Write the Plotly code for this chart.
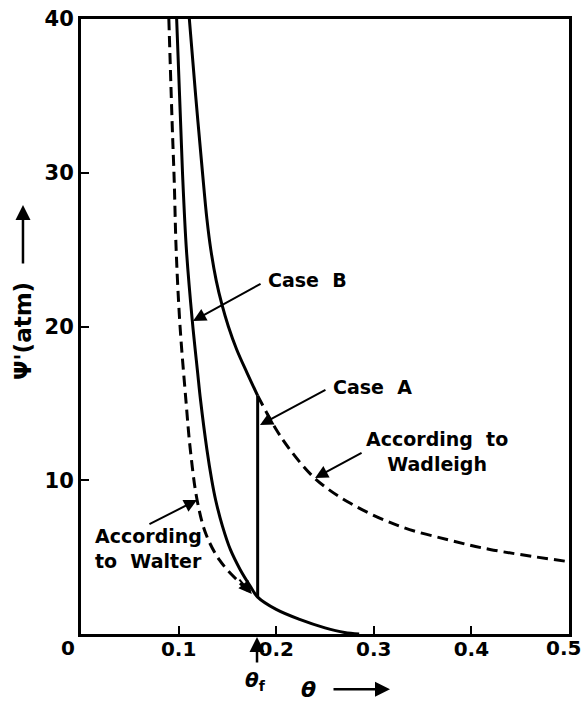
import plotly.graph_objects as go

# ---- data ----
walter_theta = [0.090, 0.0935, 0.0955, 0.0975, 0.1015, 0.1075, 0.112, 0.119, 0.128, 0.142, 0.160, 0.175]
walter_psi   = [40.0, 33.0, 29.5, 25.0, 20.0, 15.2, 12.0, 8.7, 6.5, 4.8, 3.5, 2.6]

wadleigh_theta = [0.181, 0.200, 0.214, 0.240, 0.276, 0.327, 0.378, 0.419, 0.500]
wadleigh_psi   = [15.5, 13.3, 12.0, 10.1, 8.5, 7.0, 6.1, 5.5, 4.7]

case_a_theta = [0.111, 0.1175, 0.1245, 0.129, 0.1330, 0.1385, 0.1445, 0.151, 0.1595, 0.170, 0.181]
case_a_psi   = [40.0, 35.0, 30.0, 27.0, 25.0, 23.0, 21.4, 20.0, 18.5, 17.0, 15.5]
theta_f = 0.181
jump_psi = [15.5, 2.4]

case_b_theta = [0.098, 0.101, 0.104, 0.108, 0.114, 0.1195, 0.1225, 0.129, 0.134, 0.138, 0.145, 0.153, 0.163, 0.1735, 0.181,
                0.200, 0.224, 0.250, 0.270, 0.285]
case_b_psi   = [40.0, 35.0, 30.0, 25.0, 20.4, 17.0, 15.2, 12.0, 10.0, 8.7, 7.0, 5.5, 4.2, 3.1, 2.4,
                1.6, 0.95, 0.4, 0.1, 0.0]

x_ticks = [0.1, 0.2, 0.3, 0.4, 0.5]
x_ticktext = ["0.1", "0.2", "0.3", "0.4", ""]
y_ticks = [10, 20, 30, 40]
y_ticktext = ["10", "20", "30", "40"]

FONT = "DejaVu Sans"
BLK = "black"

fig = go.Figure()
dash = "11px,6px"
fig.add_trace(go.Scatter(x=walter_theta, y=walter_psi, mode="lines", line=dict(color=BLK, width=3, dash=dash, shape="spline"), hoverinfo="skip"))
fig.add_trace(go.Scatter(x=wadleigh_theta, y=wadleigh_psi, mode="lines", line=dict(color=BLK, width=3, dash=dash, shape="spline"), hoverinfo="skip"))
fig.add_trace(go.Scatter(x=case_a_theta, y=case_a_psi, mode="lines", line=dict(color=BLK, width=3, shape="spline"), hoverinfo="skip"))
fig.add_trace(go.Scatter(x=[theta_f, theta_f], y=jump_psi, mode="lines", line=dict(color=BLK, width=3), hoverinfo="skip"))
fig.add_trace(go.Scatter(x=case_b_theta, y=case_b_psi, mode="lines", line=dict(color=BLK, width=3, shape="spline"), hoverinfo="skip"))

def txt(x, y, s, size=19, xanchor="center", xref="x", yref="y", **kw):
    fig.add_annotation(x=x, y=y, xref=xref, yref=yref, text=s, showarrow=False,
                       font=dict(family=FONT, size=size, color=BLK), xanchor=xanchor, yanchor="middle", **kw)

def arr(x, y, ax, ay, width=2, size=1.3):
    fig.add_annotation(x=x, y=y, ax=ax, ay=ay, xref="x", yref="y", axref="x", ayref="y",
                       text="", showarrow=True, arrowhead=2, arrowsize=size, arrowwidth=width, arrowcolor=BLK)

def parr(x, y, ax, ay, width=2.5, size=1.2):
    fig.add_annotation(x=x, y=y, ax=ax, ay=ay, xref="paper", yref="paper",
                       text="", showarrow=True, arrowhead=2, arrowsize=size, arrowwidth=width, arrowcolor=BLK)

# labels
txt(0.2316, 23.0, "<b>Case  B</b>")
arr(0.1148, 20.36, 0.1855, 22.83)
txt(0.299, 16.07, "<b>Case  A</b>")
arr(0.1834, 13.59, 0.252, 15.93)
txt(0.365, 11.9, "<b>According  to</b><br><b>Wadleigh</b>", align="center")
arr(0.2398, 10.15, 0.289, 11.84)
txt(0.0123, 5.55, "<b>According</b><br><b>to  Walter</b>", xanchor="left", align="left")
arr(0.1189, 8.72, 0.0686, 7.09)
arr(0.175, 2.6, 0.161, 3.64)

# theta_f arrow and label (below plot, paper coords)
parr(0.3607, -0.005, 0, 27, width=2.5)
txt(0.3566, -0.0764, "<i><b>θ</b></i><sub><b>f</b></sub>", size=20, xref="paper", yref="paper")
# x title
txt(0.4652, -0.0900, "<i><b>θ</b></i>", size=22, xref="paper", yref="paper")
parr(0.6332, -0.0900, -58, 0)
# y title
txt(-0.1189, 0.4927, "<b>Ψ'(atm)</b>", size=23, xref="paper", yref="paper", textangle=-90)
parr(-0.1189, 0.6976, 0, 60)
# origin label and right-edge label
txt(-0.0266, -0.0228, "<b>0</b>", size=20, xref="paper", yref="paper")
txt(1.0285, -0.0228, "<b>0.5</b>", size=20, xref="paper", yref="paper", xanchor="right")

fig.update_layout(
    width=584, height=706,
    margin=dict(l=81, r=15, t=19, b=72, autoexpand=False),
    plot_bgcolor="white", paper_bgcolor="white",
    showlegend=False,
    font=dict(family=FONT, color=BLK),
)
fig.update_xaxes(range=[0, 0.5], tickvals=x_ticks, ticktext=["<b>%s</b>" % t if t else "" for t in x_ticktext],
                 ticks="inside", ticklen=8, tickwidth=2, tickcolor=BLK, ticklabelstandoff=-5,
                 showline=True, linewidth=3, linecolor=BLK, mirror=True,
                 showgrid=False, zeroline=False, tickfont=dict(family=FONT, size=20, color=BLK))
fig.update_yaxes(range=[0, 40], tickvals=y_ticks, ticktext=["<b>%s</b>" % t for t in y_ticktext],
                 ticks="inside", ticklen=8, tickwidth=2, tickcolor=BLK,
                 showline=True, linewidth=3, linecolor=BLK, mirror=True,
                 showgrid=False, zeroline=False, tickfont=dict(family=FONT, size=21, color=BLK))

fig.write_html("out.html")
